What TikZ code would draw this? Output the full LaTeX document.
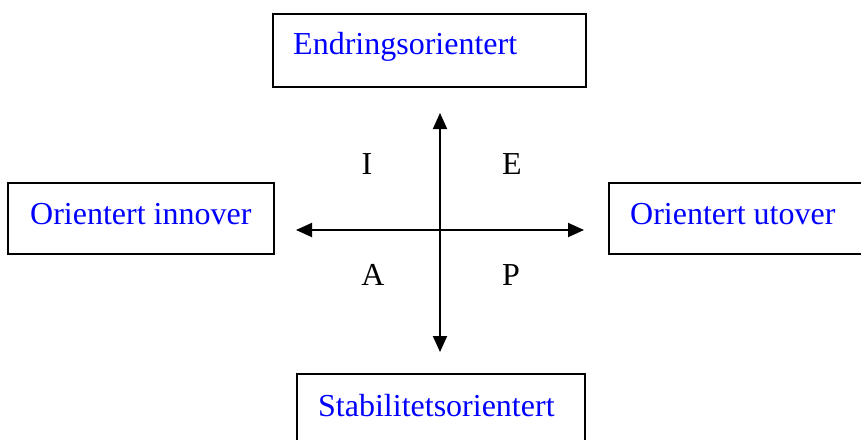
\documentclass[tikz,border=0pt]{standalone}
\usepackage{fontspec}
\setmainfont{Liberation Serif}
\usetikzlibrary{arrows.meta}
\begin{document}
\begin{tikzpicture}[x=1pt,y=-1pt,
  font=\fontsize{32}{38}\selectfont,
  boxnode/.style={draw=black, line width=2.4pt, anchor=north west, text=blue,
    align=flush left, inner ysep=0pt},
  quadlabel/.style={text=black, inner sep=0pt},
  axis/.style={line width=1.9pt, {Triangle[length=16pt,width=14pt]}-{Triangle[length=16pt,width=14pt]}}]
\useasboundingbox (0,0) rectangle (861,439);
\node[boxnode, inner xsep=20pt, text width=273pt, text height=40pt, text depth=33pt] (top) at (272,13) {\mbox{Endringsorientert}};
\node[boxnode, inner xsep=22pt, text width=222pt, text height=41pt, text depth=30pt] (left) at (7,182) {\mbox{Orientert innover}};
\node[boxnode, inner xsep=21pt, text width=220pt, text height=41pt, text depth=30pt] (right) at (608,182) {\mbox{Orientert utover}};
\node[boxnode, inner xsep=21pt, text width=246pt, text height=42pt, text depth=31pt] (bottom) at (296,373) {\mbox{Stabilitetsorientert}};
\coordinate (vtop) at (440,113);
\coordinate (vbot) at (440,352);
\coordinate (hleft) at (296,230);
\coordinate (hright) at (584,230);
\draw[axis] (vtop) -- (vbot);
\draw[axis] (hleft) -- (hright);
\node[quadlabel] (qI) at (367,164) {I};
\node[quadlabel] (qE) at (512,164) {E};
\node[quadlabel] (qA) at (373,275) {A};
\node[quadlabel] (qP) at (511,275) {P};
\end{tikzpicture}
\end{document}
